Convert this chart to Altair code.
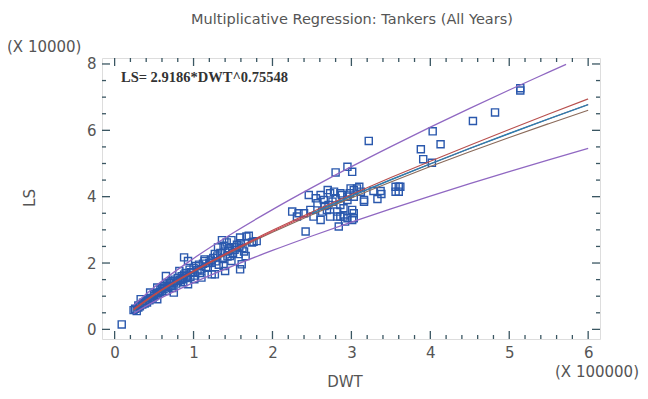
import altair as alt
import pandas as pd

# ---- data (DWT in 100000, LS in 10000) ----
dwt = [0.09,
       0.24, 0.26, 0.28, 0.30, 0.30, 0.32, 0.33, 0.35, 0.36, 0.38, 0.40, 0.41, 0.42, 0.44, 0.45, 0.46, 0.48, 0.50, 0.50, 0.52,
       0.54, 0.54, 0.55, 0.57, 0.58, 0.60, 0.60, 0.62, 0.63, 0.65, 0.65, 0.66, 0.68, 0.70, 0.71, 0.72, 0.73, 0.75, 0.75, 0.76,
       0.78, 0.80, 0.80, 0.82, 0.83, 0.85, 0.86, 0.87, 0.88, 0.88, 0.90, 0.90, 0.92, 0.93, 0.93, 0.95, 0.96, 0.97, 0.99, 1.00,
       1.01, 1.02,
       1.03, 1.05, 1.07, 1.08, 1.10, 1.10, 1.12, 1.14, 1.14, 1.16, 1.18, 1.20, 1.22, 1.23, 1.23, 1.25, 1.27, 1.27, 1.28, 1.30,
       1.31, 1.32, 1.34, 1.36, 1.37, 1.38, 1.38, 1.40, 1.40, 1.42, 1.43, 1.44, 1.45, 1.46, 1.48, 1.48, 1.50, 1.52, 1.53, 1.55,
       1.57, 1.58, 1.59, 1.59, 1.60, 1.61, 1.62, 1.64, 1.66, 1.67, 1.70, 1.74, 1.76, 1.80,
       2.25, 2.33, 2.40, 2.31, 2.52, 2.61, 2.73, 2.86, 2.84, 3.03, 3.01, 2.42, 2.95, 2.63, 2.69, 2.48,
       2.46, 2.61, 2.73, 2.65, 2.80, 2.95, 3.03, 2.57, 2.71, 2.86,
       2.70, 2.76, 2.90, 2.95, 3.10, 2.82, 2.66, 2.55, 2.98, 3.12, 2.88,
       2.80, 2.95, 3.01, 2.99, 3.07, 3.03, 3.01, 3.03, 2.90, 2.82, 2.92, 2.78, 2.86, 3.16, 3.16,
       3.22, 3.28, 3.37, 3.38, 3.56, 3.60, 3.56, 3.60, 3.33,
       3.62, 3.88, 3.91, 4.02, 4.03, 4.13, 4.54, 4.82, 5.14, 5.14]
ls = [0.15,
      0.58, 0.62, 0.55, 0.66, 0.72, 0.70, 0.91, 0.75, 0.80, 0.78, 0.85, 0.81, 0.90, 0.88, 1.11, 0.95, 0.92, 1.00, 1.06, 1.04,
      0.91, 1.26, 1.10, 1.12, 1.20, 1.15, 1.25, 1.22, 1.30, 1.16, 1.61, 1.35, 1.28, 1.40, 1.31, 1.45, 1.25, 1.11, 1.41, 1.50,
      1.38, 1.45, 1.55, 1.76, 1.48, 1.60, 1.51, 1.42, 2.17, 1.65, 1.55, 1.70, 1.62, 2.06, 1.36, 1.80, 1.58, 1.72, 1.71, 1.85,
      1.51, 1.62,
      1.91, 1.78, 1.95, 1.70, 1.56, 1.81, 1.98, 2.06, 2.11, 1.88, 1.86, 2.00, 2.10, 1.66, 2.01, 2.15, 2.27, 1.66, 2.05, 2.20,
      2.47, 1.95, 2.30, 2.69, 2.15, 1.91, 2.52, 1.76, 2.35, 2.62, 2.20, 2.36, 2.45, 2.21, 2.06, 2.69, 2.30, 2.40, 2.47, 2.55,
      2.27, 2.50, 1.81, 2.77, 2.60, 1.96, 2.45, 2.35, 2.21, 2.80, 2.82, 2.62, 2.64, 2.66,
      3.55, 3.50, 3.50, 3.40, 3.40, 3.30, 3.40, 3.40, 3.10, 3.50, 3.30, 2.95, 3.35, 3.55, 3.60, 3.60,
      4.05, 4.05, 4.10, 3.90, 3.95, 4.00, 4.20, 3.80, 3.75, 3.75,
      4.20, 3.85, 3.65, 3.90, 4.30, 3.55, 3.72, 3.95, 4.10, 4.15, 4.05,
      4.73, 4.90, 4.75, 4.25, 4.25, 4.00, 3.60, 3.35, 3.40, 3.40, 3.25, 4.15, 4.10, 3.90, 3.85,
      5.68, 4.17, 4.17, 4.08, 4.30, 4.30, 4.15, 4.15, 3.93,
      4.30, 5.43, 5.13, 5.02, 5.97, 5.58, 6.28, 6.54, 7.27, 7.20]

grid_x = [0.24, 0.5, 1.0, 1.5, 2.0, 2.5, 3.0, 3.5, 4.0, 4.5, 5.0, 5.5, 6.0]
fit_y = [0.595, 1.037, 1.750, 2.378, 2.955, 3.497, 4.014, 4.510, 4.989, 5.453, 5.905, 6.345, 6.777]
conf_hi = [0.615, 1.052, 1.765, 2.398, 2.985, 3.537, 4.064, 4.575, 5.069, 5.553, 6.025, 6.490, 6.947]
conf_lo = [0.575, 1.022, 1.735, 2.358, 2.925, 3.457, 3.964, 4.445, 4.909, 5.353, 5.785, 6.200, 6.607]
pred_hi_x = [0.24, 0.5, 1.0, 1.5, 2.0, 2.5, 3.0, 3.5, 4.0, 4.5, 5.0, 5.5, 5.72]
pred_hi = [0.727, 1.267, 2.139, 2.906, 3.611, 4.273, 4.905, 5.511, 6.097, 6.664, 7.216, 7.754, 7.99]
pred_lo = [0.479, 0.835, 1.409, 1.914, 2.379, 2.815, 3.231, 3.631, 4.016, 4.390, 4.754, 5.108, 5.455]

x_major = [0, 1, 2, 3, 4, 5, 6]
x_minor = [0.2, 0.4, 0.6, 0.8, 1.2, 1.4, 1.6, 1.8, 2.2, 2.4, 2.6, 2.8, 3.2, 3.4, 3.6, 3.8,
           4.2, 4.4, 4.6, 4.8, 5.2, 5.4, 5.6, 5.8]
y_major = [0, 2, 4, 6, 8]
y_minor = [0.5, 1, 1.5, 2.5, 3, 3.5, 4.5, 5, 5.5, 6.5, 7, 7.5]

W, H = 498, 281
AX = "#3a5662"
FONT = "DejaVu Sans"

xs = alt.Scale(domain=[-0.16, 6.15], nice=False, zero=False)
ys = alt.Scale(domain=[-0.29, 8.18], nice=False, zero=False)

pts_df = pd.DataFrame({"DWT": dwt, "LS": ls})
points = alt.Chart(pts_df).mark_point(shape="square", filled=False, size=50,
                                      strokeWidth=1.4, color="#2a58ad", opacity=1).encode(
    x=alt.X("DWT:Q", scale=xs, axis=alt.Axis(values=x_major, format="d", ticks=False, domain=False,
                                             grid=False, title=None, labelFontSize=15, labelFont=FONT,
                                             labelColor="#555", labelPadding=6)),
    y=alt.Y("LS:Q", scale=ys, axis=alt.Axis(values=y_major, format="d", ticks=False, domain=False,
                                           grid=False, title=None, labelFontSize=15, labelFont=FONT,
                                           labelColor="#555", labelPadding=6)),
)


def line(xv, yv, color, sw):
    df = pd.DataFrame({"DWT": xv, "LS": yv})
    return alt.Chart(df).mark_line(color=color, strokeWidth=sw, interpolate="monotone").encode(
        x=alt.X("DWT:Q", scale=xs), y=alt.Y("LS:Q", scale=ys))


lines = [
    line(pred_hi_x, pred_hi, "#9068c2", 1.3),
    line(grid_x, pred_lo, "#9068c2", 1.3),
    line(grid_x, conf_hi, "#b8504e", 1.1),
    line(grid_x, conf_lo, "#8a6a5a", 1.1),
    line(grid_x, fit_y, "#d03a4a", 1.0),
]
fit_tail = line(grid_x[5:], fit_y[5:], "#2a7fb0", 1.4)


def xticks(vals, length):
    df = pd.DataFrame({"v": vals})
    base = alt.Chart(df).mark_rule(color=AX, strokeWidth=1.3)
    b = base.encode(x=alt.X("v:Q", scale=xs), y=alt.value(H), y2=alt.value(H - length))
    t = base.encode(x=alt.X("v:Q", scale=xs), y=alt.value(0), y2=alt.value(length))
    return [b, t]


def yticks(vals, length):
    df = pd.DataFrame({"v": vals})
    base = alt.Chart(df).mark_rule(color=AX, strokeWidth=1.3)
    l = base.encode(y=alt.Y("v:Q", scale=ys), x=alt.value(0), x2=alt.value(length))
    r = base.encode(y=alt.Y("v:Q", scale=ys), x=alt.value(W), x2=alt.value(W - length))
    return [l, r]


ticks = xticks(x_major, 8) + xticks(x_minor, 4) + yticks(y_major, 8) + yticks(y_minor, 4)

label_df = pd.DataFrame({"t": ["x"]})


def txt(s, x, y, size, align="center", angle=0, font=FONT, color="#555", weight="normal"):
    return alt.Chart(label_df).mark_text(text=s, fontSize=size, font=font, align=align,
                                         baseline="middle", angle=angle, color=color,
                                         fontWeight=weight).encode(
        x=alt.value(x), y=alt.value(y))


texts = [
    txt("Multiplicative Regression: Tankers (All Years)", 250, -38, 14.5),
    txt("(X 10000)", -95, -11, 15, align="left"),
    txt("LS", -72, 140, 15, angle=270),
    txt("DWT", 243, 324, 15),
    txt("(X 100000)", 537, 314, 15, align="right"),
    txt("LS= 2.9186*DWT^0.75548", 19, 20, 14.5, align="left", font="Liberation Serif",
        color="#333", weight="bold"),
]

chart = alt.layer(points, *lines, fit_tail, *ticks, *texts).properties(
    width=W, height=H,
    autosize=alt.AutoSizeParams(type="none"),
    padding={"left": 94, "top": 50, "right": 40, "bottom": 52},
).configure_view(stroke=AX, strokeWidth=1.6).configure(background="white")

chart.save("out.html", embed_options={"renderer": "svg", "actions": False})
